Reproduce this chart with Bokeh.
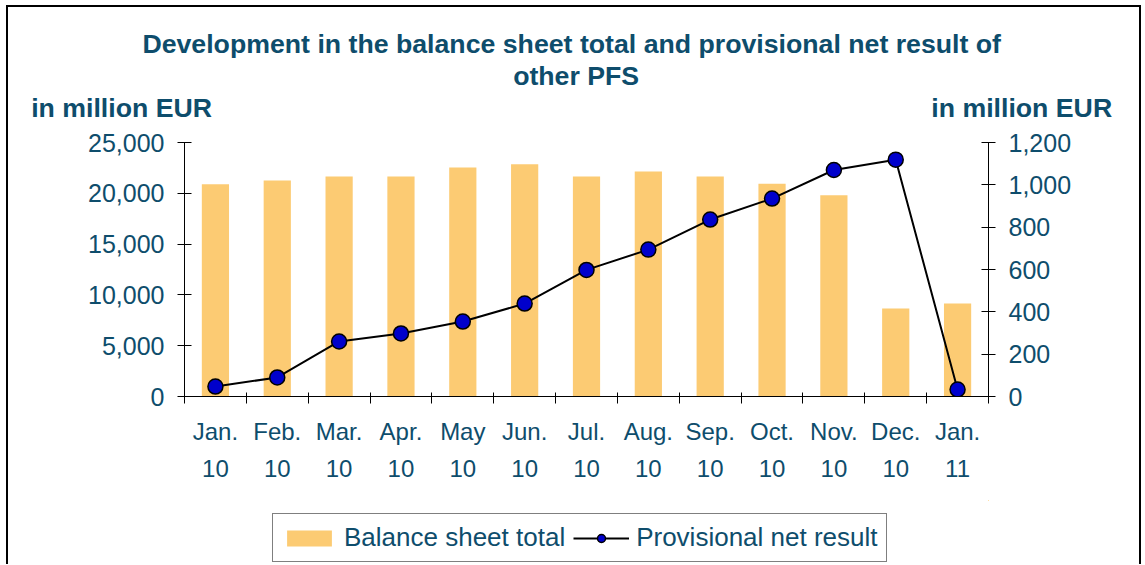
from bokeh.plotting import figure
from bokeh.layouts import column
from bokeh.models import (Range1d, LinearAxis, FixedTicker, SingleIntervalTicker,
                          NumeralTickFormatter, Legend, LegendItem, ColumnDataSource, Title)
from bokeh.embed import file_html
from bokeh.resources import INLINE

months = ["Jan.\n10", "Feb.\n10", "Mar.\n10", "Apr.\n10", "May\n10", "Jun.\n10",
          "Jul.\n10", "Aug.\n10", "Sep.\n10", "Oct.\n10", "Nov.\n10", "Dec.\n10", "Jan.\n11"]
balance_sheet_total = [20900, 21250, 21650, 21650, 22550, 22850, 21650, 22150, 21650,
                       20950, 19800, 8650, 9150]
provisional_net_result = [47, 90, 260, 298, 354, 439, 598, 694, 836, 935, 1070, 1119, 33]

title_line1 = "Development in the balance sheet total and provisional net result of"
title_line2 = "other PFS"
unit_label = "in million EUR"
series_names = ["Balance sheet total", "Provisional net result"]

TEAL = "#0E4D6C"
BAR = "#FCCB73"
DOT = "#0000CC"
FONT = "Liberation Sans"
W = 1131
MAIN_H = 493
LEG_H = 64
BL, BR = 176, 151
NB = "\u00a0"

n = len(months)
centers = [i + 0.5 for i in range(n)]
bounds = [float(i) for i in range(n + 1)]

src = ColumnDataSource(dict(x=centers, bal=balance_sheet_total, net=provisional_net_result))

p = figure(width=W, height=MAIN_H, output_backend="svg", toolbar_location=None,
           x_range=Range1d(0, n), y_range=Range1d(0, 25000),
           x_axis_type=None, y_axis_type=None,
           min_border_left=BL, min_border_right=BR, min_border_top=135, min_border_bottom=104)
p.extra_y_ranges = {"r": Range1d(0, 1200)}
p.outline_line_color = None
p.xgrid.visible = False
p.ygrid.visible = False

xaxis = LinearAxis(ticker=FixedTicker(ticks=centers, minor_ticks=bounds),
                   major_label_overrides={c: m for c, m in zip(centers, months)})
xaxis.major_tick_line_color = None
xaxis.major_tick_in = 0
xaxis.major_tick_out = 7
xaxis.minor_tick_in = 4
xaxis.minor_tick_out = 7
xaxis.minor_tick_line_color = "black"
xaxis.axis_line_color = "black"
xaxis.major_label_text_font = FONT
xaxis.major_label_text_font_size = "24px"
xaxis.major_label_text_color = TEAL
xaxis.major_label_text_line_height = 1.38
xaxis.major_label_standoff = 14
p.add_layout(xaxis, "below")

laxis = LinearAxis(ticker=SingleIntervalTicker(interval=5000, num_minor_ticks=0),
                   formatter=NumeralTickFormatter(format="0,0"))
raxis = LinearAxis(y_range_name="r", ticker=SingleIntervalTicker(interval=200, num_minor_ticks=0),
                   formatter=NumeralTickFormatter(format="0,0"))
for ax in (laxis, raxis):
    ax.major_tick_in = 7
    ax.major_tick_out = 7
    ax.minor_tick_line_color = None
    ax.axis_line_color = "black"
    ax.major_tick_line_color = "black"
    ax.major_label_text_font = FONT
    ax.major_label_text_font_size = "25px"
    ax.major_label_text_color = TEAL
    ax.major_label_standoff = 13
p.add_layout(laxis, "left")
p.add_layout(raxis, "right")

p.vbar(x="x", top="bal", width=0.44, source=src, fill_color=BAR, line_color=None)
p.line(x="x", y="net", source=src, y_range_name="r", line_color="black", line_width=2)
p.scatter(x="x", y="net", source=src, y_range_name="r", size=15,
          fill_color=DOT, line_color="black", line_width=1.5)

# header: two title lines and the two unit labels, as one multi-line title block
header = "\n".join([NB * 15 + title_line1,
                    NB * 65 + title_line2,
                    unit_label + NB * 97 + unit_label + NB * 4])
p.add_layout(Title(text=header, align="center", standoff=38,
                   text_font=FONT, text_font_style="bold", text_font_size="26.7px",
                   text_line_height=1.08, text_color=TEAL), "above")

# legend strip (its proxy renderers use the same data, scrolled out of view)
lg = figure(width=W, height=LEG_H, output_backend="svg", toolbar_location=None,
            x_range=Range1d(-100, -99), y_range=Range1d(-100, -99),
            x_axis_type=None, y_axis_type=None,
            min_border_left=BL, min_border_right=BR, min_border_top=0, min_border_bottom=0)
lg.outline_line_color = None
lg.xgrid.visible = False
lg.ygrid.visible = False
lb = lg.vbar(x="x", top="bal", width=0.44, source=src, fill_color=BAR, line_color=None)
ll = lg.line(x="x", y="net", source=src, line_color="black", line_width=2)
ls = lg.scatter(x="x", y="net", source=src, size=15, fill_color=DOT,
                line_color="black", line_width=1.5)
legend = Legend(items=[LegendItem(label=series_names[0], renderers=[lb]),
                       LegendItem(label=series_names[1], renderers=[ll, ls])],
                location=(88, 2), orientation="horizontal",
                label_text_font=FONT, label_text_font_size="26px", label_text_color=TEAL,
                glyph_width=56, glyph_height=20, label_standoff=7, spacing=8,
                padding=8, margin=0, border_line_color="black", border_line_width=1.5,
                background_fill_color="white", background_fill_alpha=1.0)
lg.add_layout(legend, "center")

layout = column(p, lg, margin=(5, 0, 0, 6),
                styles={"border": "2px solid black", "border-bottom": "none"})

open("out.html", "w").write(file_html(layout, INLINE))
